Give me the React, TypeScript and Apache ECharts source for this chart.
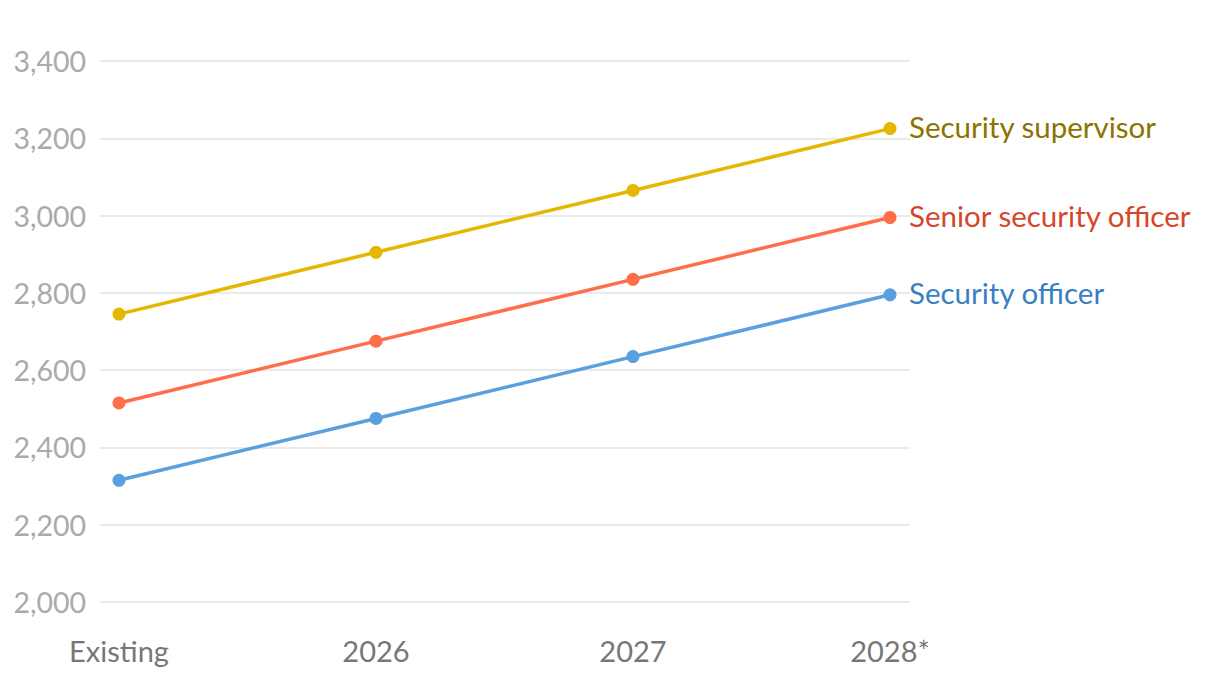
import React, { useEffect, useRef } from "react";
import * as echarts from "echarts";

const categories = ["Existing", "2026", "2027", "2028*"];
const seriesNames = ["Security supervisor", "Senior security officer", "Security officer"];
const supervisorValues = [2745, 2905, 3065, 3225];
const seniorOfficerValues = [2515, 2675, 2835, 2995];
const officerValues = [2315, 2475, 2635, 2795];
const lineColors = ["#e3b800", "#ff6e48", "#5a9fdf"];
const labelColors = ["#8c7300", "#d6472a", "#3a80c0"];

const FONT = "Lato, 'Noto Sans', sans-serif";

export default function App() {
  const ref = useRef<HTMLDivElement>(null);
  useEffect(() => {
    if (!ref.current) return;
    const chart = echarts.init(ref.current, undefined, { renderer: "svg" });
    const values = [supervisorValues, seniorOfficerValues, officerValues];
    chart.setOption({
      animation: false,
      backgroundColor: "#ffffff",
      textStyle: { fontFamily: FONT },
      grid: [
        { left: 100, right: 310, top: 61, bottom: 78 },
        { left: 119, right: 330, top: 61, bottom: 78 },
      ],
      xAxis: [
        { type: "value", gridIndex: 0, show: false, min: 0, max: 1 },
        {
          type: "category",
          gridIndex: 1,
          data: categories,
          boundaryGap: false,
          axisLine: { show: false },
          axisTick: { show: false },
          axisLabel: { color: "#777777", fontSize: 29, margin: 34, fontFamily: FONT },
        },
      ],
      yAxis: [
        {
          type: "value",
          gridIndex: 0,
          min: 2000,
          max: 3400,
          interval: 200,
          axisLine: { show: false },
          axisTick: { show: false },
          splitLine: { lineStyle: { color: "#e3e3e3", width: 1.5 } },
          axisLabel: {
            color: "#aaaaaa",
            fontSize: 28.5,
            margin: 14,
            fontFamily: FONT,
            formatter: (v: number) => v.toLocaleString("en-US"),
          },
        },
        { type: "value", gridIndex: 1, min: 2000, max: 3400, show: false },
      ],
      series: seriesNames.map((name, i) => ({
        name,
        type: "line",
        xAxisIndex: 1,
        yAxisIndex: 1,
        data: values[i],
        symbol: "circle",
        symbolSize: 13,
        lineStyle: { color: lineColors[i], width: 3.5 },
        itemStyle: { color: lineColors[i] },
        endLabel: {
          show: true,
          formatter: "{a}",
          color: labelColors[i],
          fontSize: 29.5,
          fontFamily: FONT,
          distance: 19,
          offset: [0, -2],
        },
      })),
    });
    return () => chart.dispose();
  }, []);
  return (
    <div
      ref={ref}
      style={{ position: "fixed", left: 0, top: 0, width: 1220, height: 680 }}
    />
  );
}
